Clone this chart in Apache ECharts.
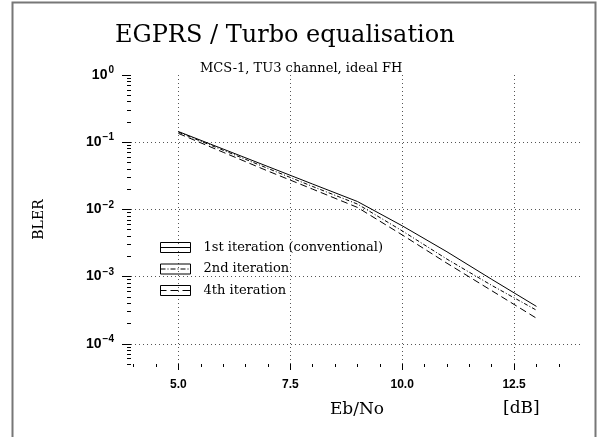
<!DOCTYPE html>
<html>
<head>
<meta charset="utf-8">
<script src="https://cdn.jsdelivr.net/npm/echarts@6/dist/echarts.min.js"></script>
<style>
  html, body { margin: 0; padding: 0; background: #fff; }
  #chart { width: 610px; height: 437px; }
</style>
</head>
<body>
<div id="chart"></div>
<script>
  // Eb/No [dB]
  const snrDb = [5, 6, 7, 8, 9, 10, 11, 12, 13];
  // BLER per iteration
  const bler1st = [0.144, 0.079, 0.0434, 0.0238, 0.0131, 0.0057, 0.00234, 0.00091, 0.00036];
  const bler2nd = [0.141, 0.0759, 0.0407, 0.0219, 0.0120, 0.00479, 0.00182, 0.00074, 0.000316];
  const bler4th = [0.135, 0.0708, 0.0372, 0.0200, 0.0107, 0.00417, 0.00158, 0.000617, 0.00024];
  const seriesNames = ['1st iteration (conventional)', '2nd iteration', '4th iteration'];

  // ticks
  const xMajorTicks = [5, 7.5, 10, 12.5];
  const xMinorTicks = [4, 4.5, 5, 5.5, 6, 6.5, 7, 7.5, 8, 8.5, 9, 9.5, 10, 10.5, 11, 11.5, 12, 12.5, 13, 13.5];
  const yDecades = [1e-4, 1e-3, 1e-2, 1e-1, 1];
  const yGridValues = [1e-4, 1e-3, 1e-2, 1e-1];
  const yMinorTicks = [
    5e-5, 6e-5, 7e-5, 8e-5, 9e-5,
    2e-4, 3e-4, 4e-4, 5e-4, 6e-4, 7e-4, 8e-4, 9e-4,
    2e-3, 3e-3, 4e-3, 5e-3, 6e-3, 7e-3, 8e-3, 9e-3,
    2e-2, 3e-2, 4e-2, 5e-2, 6e-2, 7e-2, 8e-2, 9e-2,
    0.2, 0.3, 0.4, 0.5, 0.6, 0.7, 0.8, 0.9
  ];

  const serif = 'DejaVu Serif';
  const pairs = arr => snrDb.map((x, i) => [x, arr[i]]);
  const gridLine = { show: true, lineStyle: { color: '#555', type: [1, 3], width: 1 } };

  const logAxis = {
    type: 'log', logBase: 10, min: 5e-5, max: 1, position: 'left',
    axisLine: { show: false },
    axisLabel: { show: false },
    splitLine: { show: false }
  };
  const xAxisBase = {
    type: 'value', min: 3.94, max: 14.04, position: 'bottom',
    axisLine: { show: false },
    axisLabel: { show: false },
    splitLine: { show: false }
  };

  let myChart = echarts.init(document.getElementById('chart'));
  myChart.setOption({
    animation: false,
    backgroundColor: '#fff',
    title: [
      {
        text: 'EGPRS / Turbo equalisation',
        left: 110, top: 19,
        textStyle: { fontFamily: serif, fontSize: 24, fontWeight: 'normal', color: '#000' }
      },
      {
        text: 'MCS-1, TU3 channel, ideal FH',
        left: 195, top: 57,
        textStyle: { fontFamily: serif, fontSize: 13, fontWeight: 'normal', color: '#000' }
      }
    ],
    grid: { left: 131, right: 27, top: 75, bottom: 73 },
    legend: {
      left: 160, top: 241, orient: 'vertical', padding: 0,
      itemWidth: 30, itemHeight: 10, itemGap: 8.5,
      textStyle: { fontFamily: serif, fontSize: 13, color: '#000', padding: [0, 0, 0, 8] },
      data: [
        { name: seriesNames[0], icon: 'path://M0,0H30V10H0ZM0,5H30',
          itemStyle: { color: 'transparent', borderColor: '#000', borderWidth: 1 } },
        { name: seriesNames[1], icon: 'path://M0,0H30V10H0ZM0,5H5M7,5H8M10,5H15M17,5H18M20,5H25M27,5H28',
          itemStyle: { color: 'transparent', borderColor: '#000', borderWidth: 1 } },
        { name: seriesNames[2], icon: 'path://M0,0H30V10H0ZM0,5H6M10,5H18M22,5H30',
          itemStyle: { color: 'transparent', borderColor: '#000', borderWidth: 1 } }
      ]
    },
    xAxis: [
      Object.assign({}, xAxisBase, {
        axisTick: { show: true, length: 3, customValues: xMinorTicks, lineStyle: { color: '#000' } }
      }),
      Object.assign({}, xAxisBase, {
        axisTick: { show: true, length: 6, customValues: xMajorTicks, lineStyle: { color: '#000' } },
        axisLabel: {
          show: true, customValues: xMajorTicks, margin: 15,
          formatter: v => v.toFixed(1),
          fontFamily: 'Liberation Sans', fontWeight: 'bold', fontSize: 12, color: '#000'
        },
        splitLine: gridLine,
        name: 'Eb/No', nameLocation: 'middle', nameGap: 37,
        nameTextStyle: { fontFamily: serif, fontSize: 17, color: '#000' }
      })
    ],
    yAxis: [
      Object.assign({}, logAxis, {
        axisTick: { show: true, length: 9, customValues: yDecades, lineStyle: { color: '#000' } },
        axisLabel: {
          show: true, customValues: yDecades, margin: 17,
          formatter: v => {
            let e = Math.round(Math.log10(v))
            return '{b|10}{e|' + (e === 0 ? '0' : '\u2212' + (-e)) + '}'
          },
          rich: {
            b: { fontFamily: 'Liberation Sans', fontWeight: 'bold', fontSize: 14, color: '#000' },
            e: { fontFamily: 'Liberation Sans', fontWeight: 'bold', fontSize: 10, color: '#000', padding: [0, 0, 9, 1] }
          }
        },
        name: 'BLER', nameLocation: 'middle', nameGap: 85, nameRotate: 90,
        nameTextStyle: { fontFamily: serif, fontSize: 14, color: '#000' }
      }),
      Object.assign({}, logAxis, {
        axisTick: { show: true, length: 4, customValues: yMinorTicks, lineStyle: { color: '#000' } }
      }),
      Object.assign({}, logAxis, {
        axisTick: { show: false, customValues: yGridValues },
        splitLine: gridLine
      })
    ],
    series: [
      { name: seriesNames[0], type: 'line', data: pairs(bler1st), showSymbol: false, symbol: 'none',
        itemStyle: { color: '#000' }, lineStyle: { color: '#000', width: 1, type: 'solid' } },
      { name: seriesNames[1], type: 'line', data: pairs(bler2nd), showSymbol: false, symbol: 'none',
        itemStyle: { color: '#000' }, lineStyle: { color: '#000', width: 1, type: [4, 2, 1, 2] } },
      { name: seriesNames[2], type: 'line', data: pairs(bler4th), showSymbol: false, symbol: 'none',
        itemStyle: { color: '#000' }, lineStyle: { color: '#000', width: 1, type: [7, 4] } }
    ],
    graphic: [
      {
        type: 'rect', silent: true,
        shape: { x: 12.5, y: 2.5, width: 583, height: 440 },
        style: { fill: 'none', stroke: '#777', lineWidth: 2 }
      },
      {
        type: 'text', left: 503, top: 400,
        style: { text: '[dB]', font: '17px "DejaVu Serif"', fill: '#000' }
      }
    ]
  });
</script>
</body>
</html>
